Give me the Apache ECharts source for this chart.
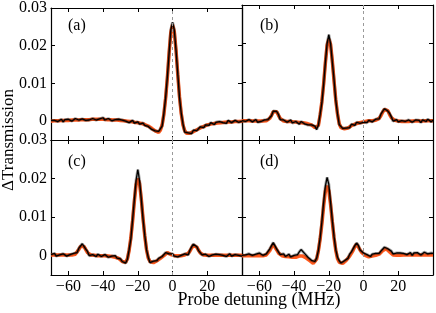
<!DOCTYPE html>
<html>
<head>
<meta charset="utf-8">
<script src="https://cdn.jsdelivr.net/npm/echarts@6/dist/echarts.min.js"></script>
<style>html,body{margin:0;padding:0;background:#fff;}#c{width:436px;height:313px;}</style>
</head>
<body>
<div id="c"></div>
<script>
const detuning = [-70,-69,-68,-67,-66,-65,-64,-63,-62,-61,-60,-59,-58,-57,-56,-55,-54,-53,-52,-51,-50,-49,-48,-47,-46,-45,-44,-43,-42,-41,-40,-39,-38,-37,-36,-35,-34,-33,-32,-31,-30,-29,-28,-27,-26,-25,-24,-23,-22,-21,-20,-19,-18,-17,-16,-15,-14,-13,-12,-11,-10,-9,-8,-7,-6,-5,-4,-3,-2,-1,0,1,2,3,4,5,6,7,8,9,10,11,12,13,14,15,16,17,18,19,20,21,22,23,24,25,26,27,28,29,30,31,32,33,34,35,36,37,38,39,40];

const xTicks = [-60,-40,-20,0,20];
const yTicks = [0,0.01,0.02,0.03];
const panelLabels = ['(a)','(b)','(c)','(d)'];

const fitA = [0,0,0.0001,0.0001,0.0001,0.0001,0.0002,0.0002,0.0002,0.0002,
0.0002,0.0003,0.0003,0.0003,0.0003,0.0003,0.0003,0.0004,0.0004,0.0004,
0.0004,0.0004,0.0004,0.0005,0.0005,0.0005,0.0005,0.0005,0.0005,0.0005,
0.0005,0.0004,0.0004,0.0004,0.0004,0.0004,0.0003,0.0003,0.0003,0.0002,
0.0002,0.0001,0.0001,0,0,-0.0001,-0.0001,-0.0002,-0.0003,-0.0003,
-0.0004,-0.0005,-0.0006,-0.0008,-0.0009,-0.0011,-0.0013,-0.0016,-0.0019,-0.0022,
-0.0026,-0.0029,-0.003,-0.0024,-0.001,0.0018,0.006,0.0115,0.018,0.0235,
0.0255,0.0238,0.0188,0.0124,0.0065,0.002,-0.001,-0.0025,-0.0032,-0.0033,
-0.0032,-0.003,-0.0028,-0.0025,-0.0023,-0.002,-0.0018,-0.0016,-0.0014,-0.0012,
-0.001,-0.0009,-0.0008,-0.0007,-0.0006,-0.0005,-0.0005,-0.0004,-0.0004,-0.0003,
-0.0003,-0.0003,-0.0002,-0.0002,-0.0002,-0.0001,-0.0001,-0.0001,-0.0001,0,0];

const dataA = [0.0002,-0.0003,0.0002,0.0005,-0.0001,0.0001,0.0005,-0.0002,0.0004,0.0001,
0.0005,0.0001,0,0.0005,0.0007,0.0002,0.0003,0.0001,0.0006,0.0005,
0.0002,0.0007,0.0003,0.0001,0.0007,0.0008,0.0003,0.0005,0.0006,0.0002,
0.0009,0.0003,0.0002,0.0007,0.0004,0.0001,0.0005,0.0004,-0.0001,0.0005,
0.0001,0.0003,-0.0001,0,0.0003,-0.0004,0,0.0002,-0.0005,-0.0004,
-0.0002,-0.0008,-0.0006,-0.0005,-0.0011,-0.001,-0.0014,-0.0012,-0.0022,-0.002,
-0.0026,-0.0031,-0.0027,-0.0025,-0.0013,0.002,0.0062,0.0116,0.018,0.0242,
0.0262,0.0242,0.0188,0.0126,0.0063,0.0021,-0.0007,-0.0029,-0.0032,-0.0031,
-0.0033,-0.0033,-0.0024,-0.0024,-0.0025,-0.002,-0.0015,-0.0017,-0.0017,-0.001,
-0.0009,-0.0011,-0.0004,-0.0008,-0.0009,-0.0003,-0.0005,-0.0001,-0.0006,-0.0004,
-0.0001,-0.0006,0.0002,-0.0002,-0.0004,0,0.0002,-0.0002,-0.0003,0.0002,0];

const fitB = [0,0,0,0,0,-0.0001,-0.0001,-0.0001,-0.0001,-0.0001,
-0.0001,-0.0001,-0.0001,-0.0001,0,0.0001,0.0006,0.0014,0.0023,0.0027,
0.0023,0.0014,0.0006,0.0001,-0.0001,-0.0001,-0.0002,-0.0002,-0.0002,-0.0003,
-0.0003,-0.0004,-0.0004,-0.0005,-0.0005,-0.0006,-0.0006,-0.0007,-0.0008,-0.0009,
-0.0011,-0.0014,-0.0018,-0.0021,-0.0012,0.0015,0.005,0.0095,0.0149,0.0195,
0.0212,0.0198,0.0156,0.0103,0.0054,0.0017,-0.0008,-0.0018,-0.002,-0.0021,
-0.0021,-0.0019,-0.0016,-0.0013,-0.0011,-0.0009,-0.0007,-0.0006,-0.0005,-0.0004,
-0.0003,-0.0002,-0.0001,0,0,0,0,0.0001,0.0002,0.0006,
0.0013,0.0022,0.0029,0.0031,0.0026,0.0016,0.0008,0.0003,0.0001,0,
-0.0001,-0.0001,-0.0002,-0.0002,-0.0002,-0.0002,-0.0002,-0.0002,-0.0001,-0.0001,
-0.0001,-0.0001,-0.0001,-0.0001,-0.0001,-0.0001,0,0,0,0,0];

const dataB = [0,0.0002,-0.0002,-0.0001,0.0003,0,-0.0003,-0.0001,0.0003,-0.0004,
0.0001,-0.0002,-0.0003,0.0002,0,0.0003,0.0003,0.0013,0.0025,0.0029,
0.0024,0.0016,0.0003,0,0.0002,-0.0001,-0.0004,-0.0001,0.0002,-0.0006,
-0.0004,-0.0002,-0.0004,-0.0009,-0.0002,-0.0005,-0.0008,-0.0005,-0.0011,-0.0006,
-0.0011,-0.0015,-0.0014,-0.0023,-0.0011,0.0017,0.0047,0.0094,0.015,0.02,
0.0223,0.02,0.0153,0.0107,0.0053,0.0018,-0.001,-0.0015,-0.002,-0.0024,
-0.0019,-0.002,-0.0018,-0.0009,-0.001,-0.0012,-0.0004,-0.0006,-0.0007,-0.0002,
-0.0004,0.0001,-0.0005,0.0001,0.0002,-0.0003,0,0.0004,0,0.0005,
0.0017,0.002,0.0031,0.0034,0.0025,0.0019,0.001,-0.0001,0,0.0003,
-0.0003,0,0,-0.0005,-0.0002,-0.0003,0.0002,0,-0.0004,-0.0003,
0.0002,-0.0002,0.0001,-0.0005,0.0002,-0.0001,-0.0002,0.0004,0.0001,-0.0003,0.0002];

const fitC = [0.0002,0.0002,0.0002,0.0002,0.0002,0.0002,0.0002,0.0002,0.0002,0.0002,
0.0002,0.0002,0.0002,0.0002,0.0004,0.0008,0.0016,0.0024,0.0028,0.0024,
0.0016,0.0008,0.0004,0.0002,0.0001,0.0001,0.0001,0,0,0,
0,0,-0.0001,-0.0001,-0.0002,-0.0002,-0.0003,-0.0004,-0.0005,-0.0007,
-0.001,-0.0015,-0.0019,-0.0017,-0.0008,0.0014,0.0047,0.009,0.0141,0.0184,
0.02,0.0187,0.0147,0.0097,0.0051,0.0016,-0.0006,-0.0015,-0.0019,-0.0018,
-0.0016,-0.0013,-0.001,-0.0007,-0.0004,0,0.0005,0.0008,0.0006,0.0003,
0.0001,0,0,0,0,0,0.0001,0.0002,0.0003,0.0006,
0.0012,0.002,0.0027,0.0028,0.0022,0.0014,0.0007,0.0003,0.0002,0.0001,
0.0001,0.0001,0.0001,0.0001,0.0001,0.0001,0.0001,0.0001,0.0001,0.0001,
0.0001,0.0001,0.0001,0.0001,0.0001,0.0001,0.0001,0.0001,0.0001,0.0001,0.0001];

const dataC = [0.0003,0.0001,0.0006,-0.0001,0.0004,0.0002,0,0.0005,0.0001,-0.0001,
0.0004,0.0003,0,0.0006,0.0003,0.0008,0.0019,0.0023,0.0031,0.0024,
0.0017,0.0011,0,0.0002,0.0003,0,-0.0002,0.0004,0.0001,-0.0002,
0,0.0003,-0.0002,-0.0004,0,-0.0001,-0.0005,0,-0.0006,-0.001,
-0.0008,-0.0015,-0.0016,-0.0019,-0.0009,0.0016,0.0044,0.0094,0.0145,0.0195,
0.0223,0.0195,0.0146,0.0095,0.0053,0.0016,-0.0004,-0.0018,-0.0018,-0.0014,
-0.0018,-0.0013,-0.0007,-0.0011,-0.0002,-0.0001,0.0008,0.001,0.0005,0.0005,
0.0005,-0.0001,0,-0.0003,0.0002,0.0001,-0.0001,0.0005,0.0002,0.0002,
0.0014,0.0023,0.003,0.0032,0.0023,0.0013,0.001,0.0002,0,0.0004,
0.0001,-0.0002,0.0003,0.0002,-0.0003,0.0004,0,0.0003,-0.0001,0.0001,
0.0004,-0.0002,0.0002,0.0005,-0.0001,0,0.0003,-0.0002,0.0001,0.0004,-0.0001];

const fitD = [0,0,0,0,0,0,0,0,0,0,
0,0,0,0,0.0002,0.0006,0.0013,0.0022,0.0029,0.0024,
0.0015,0.0007,0.0002,0,-0.0001,-0.0002,-0.0003,-0.0003,-0.0004,-0.0004,
-0.0004,-0.0004,-0.0003,-0.0001,0,-0.0001,-0.0003,-0.0006,-0.0009,-0.0013,
-0.0017,-0.002,-0.0017,-0.0009,0.0013,0.0043,0.0082,0.0128,0.0167,0.0181,
0.0169,0.0133,0.0088,0.0046,0.0014,-0.0008,-0.0017,-0.0021,-0.002,-0.0017,
-0.0012,-0.0007,-0.0001,0.0006,0.0014,0.0024,0.003,0.0025,0.0015,0.0008,
0.0004,0.0001,-0.0002,-0.0003,-0.0002,-0.0001,0,0.0001,0.0002,0.0004,
0.0008,0.0013,0.0017,0.0018,0.0015,0.001,0.0005,0.0002,0.0001,0.0001,
0.0001,0.0001,0.0001,0.0002,0.0002,0.0002,0.0002,0.0002,0.0002,0.0002,
0.0002,0.0002,0.0002,0.0002,0.0002,0.0002,0.0002,0.0002,0.0002,0.0002,0.0002];

const dataD = [0.0001,0.0006,0.0002,-0.0001,0.0005,0.0006,0.0001,0.0003,0.0004,0,
0.0007,0.0002,0.0001,0.0006,0.0005,0.0006,0.0018,0.0026,0.0034,0.0029,
0.0017,0.0012,0.0003,0.0003,0.0005,-0.0002,0.0001,0.0004,-0.0003,-0.0002,
0.0001,-0.0002,0.0003,0.001,0.0016,0.0011,0.0006,0.0003,-0.0004,-0.0007,
-0.0012,-0.0017,-0.0015,-0.0006,0.0014,0.0046,0.0088,0.0138,0.018,0.0203,
0.0185,0.0138,0.0092,0.005,0.0016,-0.0004,-0.0013,-0.0019,-0.0018,-0.0013,
-0.001,-0.0007,0.0004,0.001,0.0015,0.0026,0.0033,0.0027,0.0015,0.0011,
0.0007,0.0002,0.0003,-0.0001,-0.0002,0.0004,0.0003,0.0006,0.0004,0.0006,
0.0012,0.0015,0.0022,0.0023,0.0018,0.0015,0.0012,0.0005,0.0004,0.0007,
0.0005,0.0007,0.0002,0.0006,0.0009,0.0003,0.0005,0.0008,0.0001,0.0007,
0.0004,0.0008,0.0003,0.0002,0.0007,0.0009,0.0004,0.0005,0.0002,0.0007,0.0006];

const fits = [fitA, fitB, fitC, fitD];
const datas = [dataA, dataB, dataC, dataD];

const SERIF = '"Liberation Serif", "Times New Roman", serif';
const gridPos = [[51,5],[242,5],[51,140],[242,140]];
const labelPos = [[68,18],[260,18],[68,154],[260,154]];

const axisLine = {show:true, onZero:false, lineStyle:{color:'#000', width:1.2}};
const fmtX = v => (v < 0 ? '\u2212' + Math.abs(v) : String(v));
const fmtY = v => (Math.abs(v) < 1e-9 ? '0' : v.toFixed(2));

const grid = [], xAxis = [], yAxis = [], series = [], graphic = [];
for (let i = 0; i < 4; i++) {
  grid.push({left: gridPos[i][0], top: gridPos[i][1], width: 191, height: 135});
  ['bottom','top'].forEach((pos, k) => {
    xAxis.push({
      type:'value', gridIndex:i, position:pos, min:-70, max:40,
      axisLine: axisLine,
      axisTick:{show:true, inside:true, length:4, customValues:xTicks, lineStyle:{color:'#000', width:1}},
      axisLabel:{show: k === 0 && i >= 2, customValues:xTicks, formatter: fmtX, fontFamily: SERIF, fontSize:16, color:'#000', margin:4},
      splitLine:{show:false}
    });
  });
  ['left','right'].forEach((pos, k) => {
    yAxis.push({
      type:'value', gridIndex:i, position:pos, min:-0.005, max:0.03,
      axisLine: axisLine,
      axisTick:{show:true, inside:true, length:4, customValues:yTicks, lineStyle:{color:'#000', width:1}},
      axisLabel:{show: k === 0 && i % 2 === 0, customValues:yTicks, formatter: fmtY, fontFamily: SERIF, fontSize:16, color:'#000', margin:4},
      splitLine:{show:false}
    });
  });
  const fitPts = detuning.map((x, j) => [x, fits[i][j]]);
  const dataPts = detuning.map((x, j) => [x, datas[i][j]]);
  series.push({
    type:'line', xAxisIndex:2*i, yAxisIndex:2*i, data:fitPts, showSymbol:false, z:2,
    lineStyle:{color:'#ff5a1e', width:3.5}, smooth:false,
    markLine:{silent:true, symbol:'none', label:{show:false}, lineStyle:{color:'#9a9a9a', type:[3,3], width:1}, data:[{xAxis:0}]}
  });
  series.push({
    type:'line', xAxisIndex:2*i, yAxisIndex:2*i, data:dataPts, showSymbol:false, z:3,
    lineStyle:{color:'rgba(0,0,0,0.35)', width:3}
  });
  series.push({
    type:'line', xAxisIndex:2*i, yAxisIndex:2*i, data:dataPts, showSymbol:false, z:4,
    lineStyle:{color:'#000', width:1.3}
  });
  graphic.push({type:'text', left: labelPos[i][0], top: labelPos[i][1], style:{text: panelLabels[i], font: '16px ' + SERIF, fill:'#000'}});
}
graphic.push({type:'text', x: 9, y: 140, rotation: Math.PI/2, style:{text:'\u0394Transmission', font:'17px ' + SERIF, fill:'#000', align:'center', verticalAlign:'middle'}});
graphic.push({type:'text', x: 259, y: 300, style:{text:'Probe detuning (MHz)', font:'18px ' + SERIF, fill:'#000', align:'center', verticalAlign:'middle'}});

const chart = echarts.init(document.getElementById('c'), null, {renderer:'canvas'});
chart.setOption({animation:false, backgroundColor:'#fff', grid, xAxis, yAxis, series, graphic});
</script>
</body>
</html>
